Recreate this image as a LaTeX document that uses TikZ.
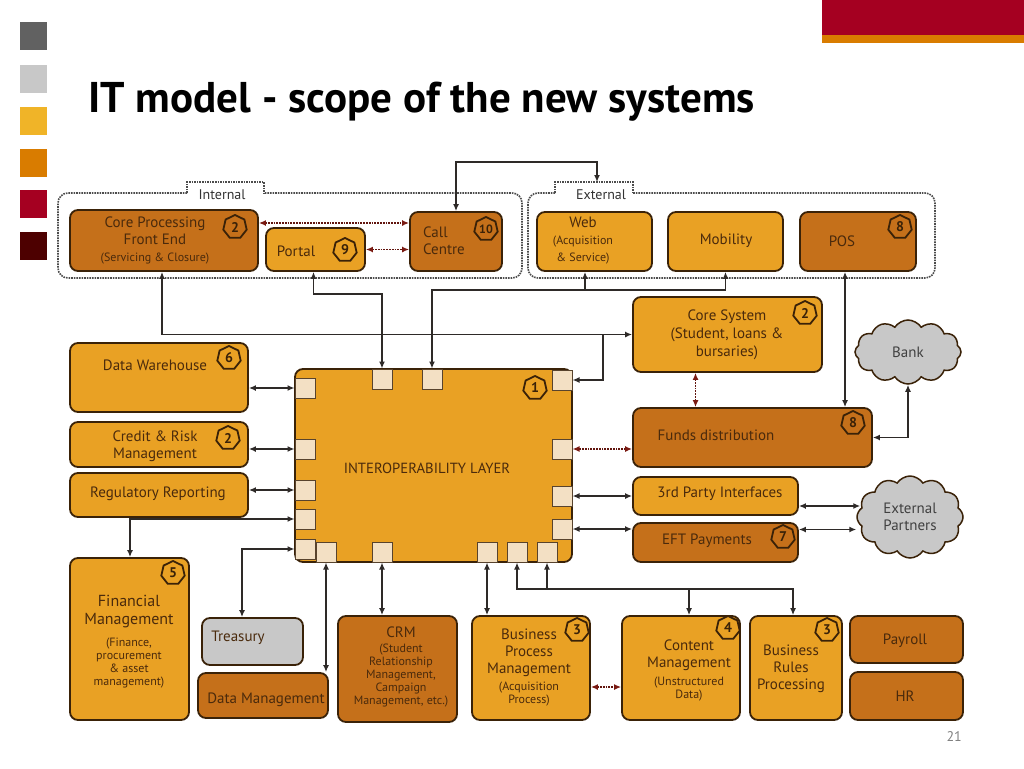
\documentclass[tikz,border=0pt]{standalone}
\usepackage{fontspec}
\setmainfont{PT Sans}
\usetikzlibrary{arrows.meta,shapes.geometric,shapes.symbols,calc}
\definecolor{lo}{HTML}{E9A124}
\definecolor{do}{HTML}{C5701A}
\definecolor{gy}{HTML}{C8C8C8}
\definecolor{bd}{HTML}{3A2208}
\definecolor{tx}{HTML}{4A2A0C}
\definecolor{pc}{HTML}{F3E0C4}
\definecolor{ln}{HTML}{2E2A28}
\definecolor{dt}{HTML}{7A1A12}
\newcommand\sm{\fontsize{12}{13}\selectfont}
\begin{document}
\begin{tikzpicture}[x=1pt,y=-1pt,
  >={Latex[length=7pt,width=6pt]},
  box/.style={draw=bd, line width=1.8pt, rounded corners=8pt, inner sep=0pt},
  boxL/.style={box, fill=lo},
  boxD/.style={box, fill=do},
  boxG/.style={box, fill=gy},
  txt/.style={text=tx, font=\fontsize{15}{17}\selectfont, align=center, inner sep=0pt},
  port/.style={draw=bd!85, line width=1pt, fill=pc, minimum size=20pt, inner sep=0pt},
  badge/.style={regular polygon, regular polygon sides=7, draw=bd, line width=1.8pt, minimum size=24pt, inner sep=0pt, text=bd, font=\fontsize{14}{14}\selectfont\bfseries},
  conn/.style={draw=ln, line width=1.6pt},
  dconn/.style={draw=dt!80!black, line width=1.8pt, densely dotted, arrows={Latex[length=7pt,width=6pt,color=dt]-Latex[length=7pt,width=6pt,color=dt]}},
  grp/.style={draw=black!70, line width=1.6pt, densely dotted},
  grplbl/.style={text=black!80, font=\fontsize{14}{14}\selectfont, inner sep=0pt},
  cloudn/.style={cloud, cloud puffs=12, cloud puff arc=115, aspect=1.6, fill=gy, draw=bd, line width=1.5pt, inner sep=0pt, text=black!75, font=\fontsize{15}{17}\selectfont, align=center}
]
\useasboundingbox (0,0) rectangle (1024,768);
\fill[white] (0,0) rectangle (1024,768);

% slide decoration
\fill[fill=black!62] (20,22) rectangle (47,50);
\fill[fill=gy] (20,65) rectangle (47,93);
\fill[fill={rgb,255:red,240;green,180;blue,40}] (20,107) rectangle (47,135);
\fill[fill={rgb,255:red,217;green,124;blue,0}] (20,149) rectangle (47,177);
\fill[fill={rgb,255:red,165;green,0;blue,33}] (20,190) rectangle (47,218);
\fill[fill={rgb,255:red,77;green,0;blue,0}] (20,232) rectangle (47,260);
\fill[fill={rgb,255:red,165;green,0;blue,33}] (822,0) rectangle (1024,35);
\fill[fill={rgb,255:red,217;green,124;blue,0}] (822,35) rectangle (1024,43);
\node[anchor=base west, inner sep=0pt, font=\fontsize{43}{45}\selectfont\bfseries] (title) at (88,112) {IT model - scope of the new systems};
\node[anchor=base east, inner sep=0pt, text=black!50, font=\fontsize{14}{14}\selectfont] (pgno) at (962,741) {21};

% groups
\draw[grp] (187,193) -- (187,182) -- (264,182) -- (264,193);
\draw[grp, rounded corners=10pt] (187,193) -- (58,193) -- (58,278) -- (522,278) -- (522,193) -- (264,193);
\node[grplbl] (lint) at (222,195) {Internal};
\draw[grp] (555,193) -- (555,182) -- (633,182) -- (633,193);
\draw[grp, rounded corners=10pt] (555,193) -- (528,193) -- (528,278) -- (935,278) -- (935,193) -- (633,193);
\node[grplbl] (lext) at (601,195) {External};
\coordinate (exttop) at (597,182);

% top boxes
\node[boxD, minimum width=188pt, minimum height=61pt] (cpfe) at (164,240.5) {};
\node[txt] (t-cpfe) at (155,240) {Core Processing\\Front End\\\sm (Servicing \& Closure)};
\node[boxL, minimum width=99pt, minimum height=43pt] (portal) at (315.5,249.5) {};
\node[txt] (t-portal) at (296,251) {Portal};
\node[boxD, minimum width=92pt, minimum height=59pt] (callc) at (456,241.5) {};
\node[txt, align=left] (t-callc) at (444,241) {Call\\Centre};
\node[boxL, minimum width=115pt, minimum height=59pt] (web) at (594.5,241.5) {};
\node[txt] (t-web) at (583,241) {Web\\\sm (Acquisition\\\sm \& Service)};
\node[boxL, minimum width=115pt, minimum height=59pt] (mobility) at (725.5,241.5) {};
\node[txt] (t-mob) at (726,241) {Mobility};
\node[boxD, minimum width=116pt, minimum height=59pt] (pos) at (858,241.5) {};
\node[txt] (t-pos) at (842,241) {POS};
\node[boxL, minimum width=189pt, minimum height=75pt] (core) at (727.5,334.5) {};
\node[txt, font=\fontsize{15}{18}\selectfont] (t-core) at (727,335) {Core System\\(Student, loans \&\\bursaries)};
\node[cloudn, minimum width=106pt, minimum height=64pt] (bank) at (908,352) {Bank};

% left boxes
\node[boxL, minimum width=178pt, minimum height=69pt] (dw) at (159,377.5) {};
\node[txt] (t-dw) at (155,365) {Data Warehouse};
\node[boxL, minimum width=178pt, minimum height=45pt] (risk) at (159,444.5) {};
\node[txt] (t-risk) at (155,446) {Credit \& Risk\\Management};
\node[boxL, minimum width=178pt, minimum height=44pt] (reg) at (159,495) {};
\node[txt] (t-reg) at (158,494) {Regulatory Reporting};

% interoperability layer
\node[boxL, minimum width=277pt, minimum height=193pt] (iop) at (433.5,465.5) {};
\node[txt, font=\fontsize{14.7}{16}\selectfont] (t-iop) at (427,468) {INTEROPERABILITY LAYER};
\node[port] (pt1) at (382,379) {};
\node[port] (pt2) at (432,379) {};
\node[port] (pr1) at (562,380) {};
\node[port] (pr2) at (562,449) {};
\node[port] (pr3) at (562,496) {};
\node[port] (pr4) at (562,529) {};
\node[port] (pl1) at (305,388) {};
\node[port] (pl2) at (305,449) {};
\node[port] (pl3) at (305,490) {};
\node[port] (pl4) at (305,519) {};
\node[port] (pl5) at (305,549) {};
\node[port] (pb1) at (326,552) {};
\node[port] (pb2) at (382,552) {};
\node[port] (pb3) at (487,552) {};
\node[port] (pb4) at (517,552) {};
\node[port] (pb5) at (547,552) {};

% right middle
\node[boxD, minimum width=239pt, minimum height=59pt] (funds) at (752.5,437.5) {};
\node[txt] (t-funds) at (716,435) {Funds distribution};
\node[boxL, minimum width=165pt, minimum height=38pt] (third) at (715.5,496) {};
\node[txt] (t-third) at (720,494) {3rd Party Interfaces};
\node[boxD, minimum width=165pt, minimum height=39pt] (eft) at (715.5,542.5) {};
\node[txt] (t-eft) at (707,541) {EFT Payments};
\node[cloudn, minimum width=106pt, minimum height=82pt] (extp) at (910,517) {External\\Partners};

% bottom boxes
\node[boxL, minimum width=119pt, minimum height=162pt] (fm) at (129.5,639) {};
\node[txt, font=\fontsize{16}{18}\selectfont] (t-fm1) at (129,612) {Financial\\Management};
\node[txt, font=\sm] (t-fm2) at (129,663) {(Finance,\\procurement\\\& asset\\management)};
\node[boxG, minimum width=101pt, minimum height=47pt] (treasury) at (252.5,641.5) {};
\node[txt] (t-tre) at (238,638) {Treasury};
\node[boxD, minimum width=130pt, minimum height=45pt] (datam) at (263,695.5) {};
\node[txt] (t-datam) at (266,700) {Data Management};
\node[boxD, minimum width=119pt, minimum height=106pt] (crm) at (397.5,669) {};
\node[txt] (t-crm1) at (401,632) {CRM};
\node[txt, font=\sm] (t-crm2) at (401,676) {(Student\\Relationship\\Management,\\Campaign\\Management, etc.)};
\node[boxL, minimum width=118pt, minimum height=104pt] (bpm) at (531,668) {};
\node[txt] (t-bpm1) at (529,653) {Business\\Process\\Management};
\node[txt, font=\sm] (t-bpm2) at (529,694) {(Acquisition\\Process)};
\node[boxL, minimum width=118pt, minimum height=104pt] (cm) at (681,668) {};
\node[txt] (t-cm1) at (689,655) {Content\\Management};
\node[txt, font=\sm] (t-cm2) at (689,689) {(Unstructured\\Data)};
\node[boxL, minimum width=92pt, minimum height=104pt] (brp) at (796,668) {};
\node[txt] (t-brp) at (791,669) {Business\\Rules\\Processing};
\node[boxD, minimum width=113pt, minimum height=47pt] (payroll) at (906.5,639.5) {};
\node[txt] (t-pay) at (905,641) {Payroll};
\node[boxD, minimum width=113pt, minimum height=48pt] (hr) at (906.5,696) {};
\node[txt] (t-hr) at (905,696) {HR};

% badges
\node[badge] (b-cpfe) at (235,227) {2};
\node[badge] (b-portal) at (345,250) {9};
\node[badge, font=\fontsize{12}{12}\selectfont\bfseries] (b-callc) at (486,229) {10};
\node[badge] (b-pos) at (900,227) {8};
\node[badge] (b-core) at (805,313) {2};
\node[badge] (b-dw) at (229,358) {6};
\node[badge] (b-risk) at (228,438) {2};
\node[badge] (b-iop) at (535,388) {1};
\node[badge] (b-funds) at (853,423) {8};
\node[badge] (b-eft) at (783,537) {7};
\node[badge] (b-fm) at (173,573) {5};
\node[badge] (b-bpm) at (577,630) {3};
\node[badge] (b-cm) at (728,628) {4};
\node[badge] (b-brp) at (827,630) {3};

% connectors: top
\draw[conn,<->] (callc.north) -- ++(0,-49) -| (exttop);
\draw[dconn] (cpfe.east |- 0,223) -- (callc.west |- 0,223);
\draw[dconn] (portal.east) -- (callc.west |- portal.east);
\coordinate (j1) at (603,334.5);
\draw[conn,<->] ([xshift=-2pt]cpfe.south) |- (core.west);
\draw[conn,->] (j1) |- (pr1.east);
\draw[conn,<->] ([xshift=-2pt]portal.south) -- ++(0,22) -| (pt1.north);
\coordinate (j2) at (585,290);
\draw[conn,<->] (mobility.south) |- (j2) -| (pt2.north);
\draw[conn,->] (j2) -- (web.south -| j2);
\draw[conn,<->] ([xshift=-13pt]pos.south) -- ([xshift=-13pt]pos.south |- funds.north);
\draw[dconn] ([xshift=-32pt]core.south) -- ([xshift=-32pt]core.south |- funds.north);
\draw[conn,<->] (bank.south) |- (funds.east);

% connectors: right
\draw[dconn] (funds.west |- pr2) -- (pr2.east);
\draw[conn,<->] (third.west) -- (pr3.east);
\draw[conn,<->] (eft.west |- pr4) -- (pr4.east);
\draw[conn,<->] ([yshift=-10pt]third.east) -- ([yshift=-10pt,xshift=4pt]third.east -| extp.west);
\draw[conn,<->] ([yshift=13pt]eft.east) -- ([yshift=13pt]eft.east -| extp.west);

% connectors: left
\draw[conn,<->] (dw.east |- pl1) -- (pl1.west);
\draw[conn,<->] (risk.east |- pl2) -- (pl2.west);
\draw[conn,<->] (reg.east |- pl3) -- (pl3.west);
\draw[conn,<->] ([xshift=0.5pt]fm.north) |- (pl4.west);
\draw[conn,<->] ([xshift=-10.5pt]treasury.north) |- (pl5.west);

% connectors: bottom
\coordinate (bus) at (0,589);
\draw[conn,<->] (pb1.south) -- (pb1.south |- datam.north);
\draw[conn,<->] (pb2.south) -- (pb2.south |- crm.north);
\draw[conn,<->] (pb3.south) -- (pb3.south |- bpm.north);
\draw[conn,<->] (pb4.south) |- ([xshift=-3pt]brp.north |- bus) -- ([xshift=-3pt]brp.north);
\draw[conn,<-] (pb5.south) -- (pb5.south |- bus);
\draw[conn,->] ([xshift=8pt]cm.north |- bus) -- ([xshift=8pt]cm.north);
\draw[dconn] ([yshift=-19pt]bpm.east) -- ([yshift=-19pt]bpm.east -| cm.west);
\end{tikzpicture}
\end{document}
